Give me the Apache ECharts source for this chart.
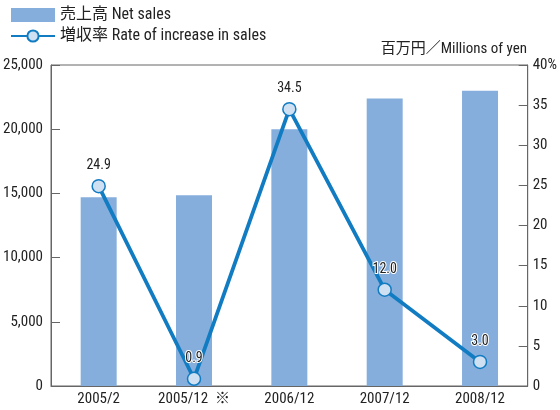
<!DOCTYPE html>
<html><head><meta charset="utf-8">
<script src="https://cdn.jsdelivr.net/npm/echarts@6/dist/echarts.min.js"></script>
<style>html,body{margin:0;padding:0;background:#fff}#c{width:560px;height:410px}</style>
</head><body><div id="c"></div>
<script>
const categories = ['2005/2', '2005/12  ※', '2006/12', '2007/12', '2008/12'];
const netSales = [14700, 14850, 20000, 22400, 23000];
const increaseRate = [24.9, 0.9, 34.5, 12.0, 3.0];
const leftTicks = [0, 5000, 10000, 15000, 20000, 25000];
const rightTicks = [0, 5, 10, 15, 20, 25, 30, 35, 40];

const FONT = "'Roboto Condensed', 'Noto Sans CJK JP', sans-serif";
const chart = echarts.init(document.getElementById('c'));
chart.setOption({
  animation: false,
  textStyle: { fontFamily: FONT },
  legend: {
    orient: 'vertical', left: 5, top: 2, itemGap: 5, itemWidth: 44, itemHeight: 14,
    textStyle: { fontSize: 16, color: '#222', fontFamily: FONT },
    data: [{ name: '売上高 Net sales', icon: 'rect' }, { name: '増収率 Rate of increase in sales' }]
  },
  grid: { left: 51, right: 30, top: 65, bottom: 24, show: true, borderColor: '#666', borderWidth: 1 },
  graphic: [{
    type: 'text', right: 33, top: 42,
    style: { text: '百万円／Millions of yen', font: "15px 'Roboto Condensed','Noto Sans CJK JP', sans-serif", fill: '#222' }
  }],
  xAxis: {
    type: 'category', data: categories,
    axisLine: { lineStyle: { color: '#666' } },
    axisTick: { show: false },
    axisLabel: { color: '#222', fontSize: 15, margin: 6 }
  },
  yAxis: [{
    type: 'value', min: leftTicks[0], max: leftTicks[leftTicks.length - 1], interval: 5000,
    axisLine: { show: true, lineStyle: { color: '#666' } },
    axisTick: { show: true, inside: true, length: 9, lineStyle: { color: '#666' } },
    splitLine: { show: false },
    axisLabel: { color: '#222', fontSize: 15, margin: 8, formatter: v => v.toLocaleString('en-US') }
  }, {
    type: 'value', min: rightTicks[0], max: rightTicks[rightTicks.length - 1], interval: 5,
    position: 'right',
    axisLine: { show: true, lineStyle: { color: '#666' } },
    axisTick: { show: true, inside: true, length: 9, lineStyle: { color: '#666' } },
    splitLine: { show: false },
    axisLabel: { color: '#222', fontSize: 15, margin: 5, formatter: v => v === 40 ? '40%' : String(v) }
  }],
  series: [{
    name: '売上高 Net sales', type: 'bar', data: netSales, barWidth: 36,
    itemStyle: { color: '#86aedd' }
  }, {
    name: '増収率 Rate of increase in sales', type: 'line', yAxisIndex: 1,
    data: increaseRate, symbol: 'circle', symbolSize: 13,
    lineStyle: { color: '#127cc2', width: 3.8 },
    itemStyle: { color: '#cfe0f3', borderColor: '#127cc2', borderWidth: 1.5 },
    label: {
      show: true, position: 'top', distance: 6, fontSize: 14, color: '#222',
      textBorderColor: '#fff', textBorderWidth: 2,
      formatter: p => p.value.toFixed(1)
    }
  }]
});
</script></body></html>
